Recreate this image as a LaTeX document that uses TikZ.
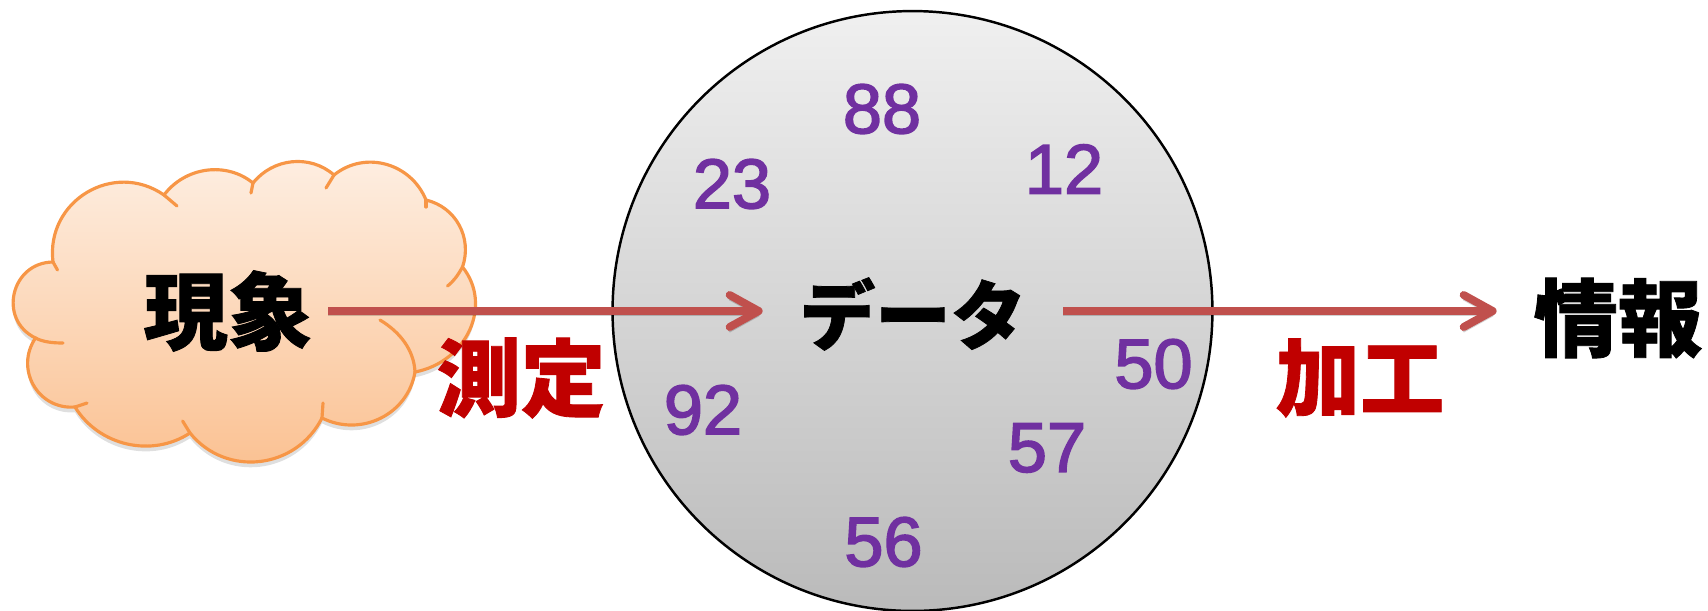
\documentclass[tikz,border=0pt]{standalone}
\usepackage{fontspec}
\setmainfont{Noto Sans CJK JP}
\newfontfamily\jpfont[BoldFont={* Black}, BoldFeatures={FakeBold=1}]{Noto Sans CJK JP}
\newfontfamily\numfont[FakeBold=2.2]{Liberation Sans}
\usetikzlibrary{arrows.meta, shadows}
\definecolor{cflow}{HTML}{C0504D}
\definecolor{cred}{HTML}{C00000}
\definecolor{cpurple}{HTML}{7030A0}
\definecolor{cedge}{HTML}{F79646}
\tikzset{
  every picture/.style={line width=1.2pt},
  word/.style={font=\fontsize{48}{48}\selectfont\jpfont\bfseries, inner ysep=0pt, text=black},
  act/.style={word, text=cred, inner sep=0pt},
  num/.style={font=\fontsize{40}{40}\selectfont\numfont, text=cpurple, inner sep=0pt},
  arrow/.style={-{Straight Barb[length=0.58cm, width=0.64cm, round]}, draw=cflow, line width=4.5pt,
    preaction={draw=black, opacity=.18, transform canvas={yshift=-2.5pt}}},
  lobe/.style={draw=cedge, line width=1.8pt, line cap=round},
}

\begin{document}
\begin{tikzpicture}[x=0.02cm, y=-0.02cm]
  \useasboundingbox (0,0) rectangle (1708,610);
  \node[circle, draw=black, line width=1.4pt, minimum size=12cm, inner sep=0pt,
    top color=black!6, bottom color=black!27] (ball) at (912.5,311) {};
  \path[lobe, top color=cedge!15, bottom color=cedge!60, drop shadow={shadow xshift=0pt, shadow yshift=-3pt, opacity=.25}]
    (53,262) .. controls (45.5,201) and (113.5,160) .. (164,195)
    .. controls (185,167) and (226,161) .. (253,183)
    .. controls (273,158) and (310,154) .. (334,175)
    .. controls (365,150) and (411,163) .. (426,200)
    .. controls (456,207) and (472.5,238) .. (462.5,267)
    .. controls (493,305) and (467,362) .. (415,372)
    .. controls (408,414.5) and (361,437.5) .. (322,418)
    .. controls (296,469.5) and (226,477.5) .. (190,433)
    .. controls (152,458) and (99,446) .. (75,407)
    .. controls (38,410) and (14.5,369) .. (35.5,338)
    .. controls (-2.5,319.6) and (11,262.4) .. (53,262) -- cycle;
  \draw[lobe] (53,262) -- (57.5,270);
  \draw[lobe] (164,195) -- (177,206);
  \draw[lobe] (253,183) -- (251,193);
  \draw[lobe] (334,175) -- (326,188);
  \draw[lobe] (426,200) -- (426,207);
  \draw[lobe] (462.5,267) .. controls (458,275) and (454,281) .. (447.5,286);
  \draw[lobe] (415,372) .. controls (414,350) and (400,332) .. (380,320);
  \draw[lobe] (322,418) -- (323,403);
  \draw[lobe] (190,433) -- (182.6,421);
  \draw[lobe] (75,407) -- (87,403);
  \draw[lobe] (35.5,338) .. controls (43,342) and (53,343) .. (63,343);

  \node[word, inner xsep=0.3cm] (phen) at (228,311) {現象};
  \node[word, inner xsep=0.72cm, font=\fontsize{43}{43}\selectfont\jpfont\bfseries] (data) at (913,314) {データ};
  \node[word, inner xsep=0.72cm] (info) at (1618,318) {情報};
  \draw[arrow] (phen.east |- ball.center) -- (data.west |- ball.center);
  \draw[arrow] (data.east |- ball.center) -- (info.west |- ball.center);
  \node[act] (measure) at (521,378) {測定};
  \node[act] (process) at (1360,378) {加工};

  \node[num] (n88) at (882,109) {88};
  \node[num] (n12) at (1064,169) {12};
  \node[num] (n23) at (732,184) {23};
  \node[num] (n92) at (703,410) {92};
  \node[num] (n50) at (1153.5,364) {50};
  \node[num] (n57) at (1047,448) {57};
  \node[num] (n56) at (883.5,542) {56};
\end{tikzpicture}
\end{document}
